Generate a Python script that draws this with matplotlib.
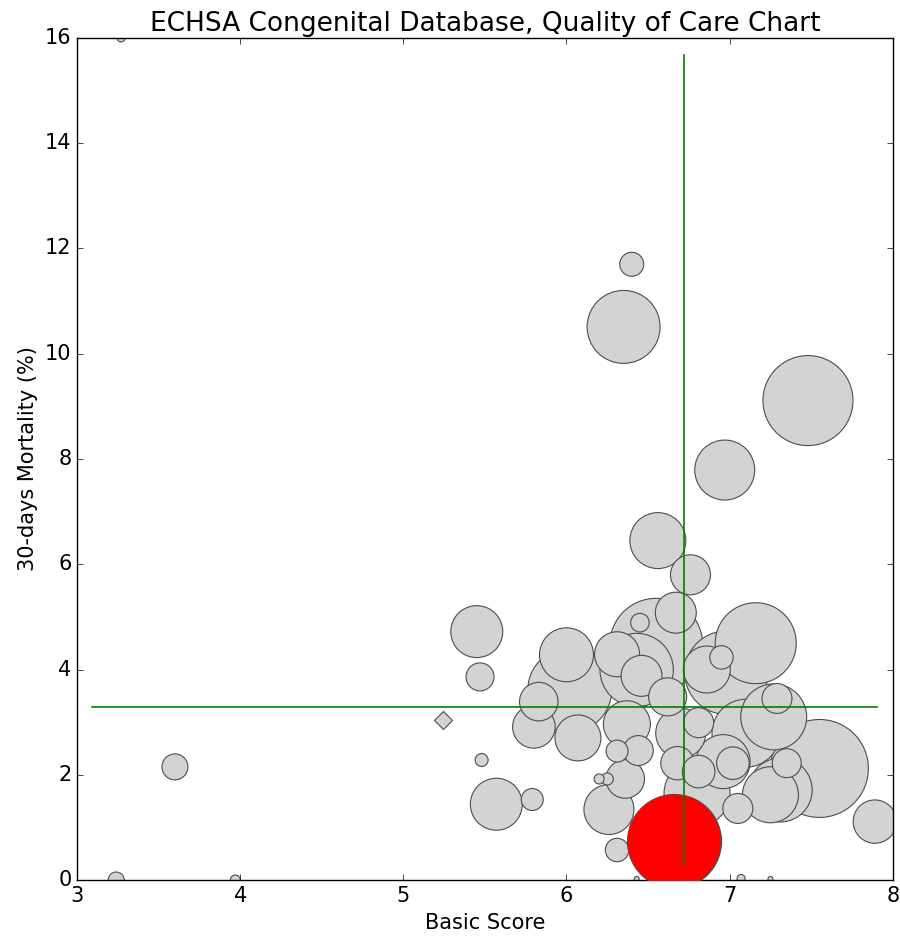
import numpy as np
import matplotlib
matplotlib.use("Agg")
import matplotlib.pyplot as plt

plt.style.use("classic")
plt.rcParams["font.size"] = 15
plt.rcParams["xtick.labelsize"] = 15
plt.rcParams["ytick.labelsize"] = 15
plt.rcParams["axes.labelsize"] = 15

# hospital bubbles: basic score, 30-day mortality (%), bubble size (case volume)
basic_score = [3.27, 3.24, 3.97, 3.60, 5.48, 5.57, 5.45, 5.47, 5.79,
               6.40, 6.35, 7.48, 6.97, 6.56, 6.76, 6.67, 6.45, 6.55, 7.16,
               6.00, 6.31, 6.46, 6.62, 6.86, 6.95, 6.98, 5.83, 5.80, 6.07,
               6.37, 6.02, 6.43, 7.29, 7.27, 6.81, 7.10, 6.70, 7.55, 7.35,
               7.25, 7.31, 7.05, 7.02, 6.96, 6.81, 6.68, 7.89, 7.07, 7.25,
               6.26, 6.20, 6.25, 6.36, 6.31, 6.44, 6.31, 6.43, 6.80]
mortality = [16.0, 0.0, 0.0, 2.15, 2.28, 1.44, 4.72, 3.86, 1.53,
             11.70, 10.51, 9.11, 7.79, 6.45, 5.80, 5.08, 4.89, 4.47, 4.50,
             4.28, 4.29, 3.88, 3.48, 4.00, 4.23, 3.94, 3.39, 2.91, 2.70,
             2.96, 3.61, 3.99, 3.45, 3.10, 2.99, 2.79, 2.79, 2.12, 2.22,
             1.62, 1.71, 1.36, 2.22, 2.25, 2.06, 2.22, 1.11, 0.03, 0.02,
             1.34, 1.92, 1.92, 1.92, 2.45, 2.46, 0.57, 0.02, 1.65]
volume = [33, 133, 52, 350, 87, 1400, 1400, 406, 250,
          298, 2760, 4200, 1865, 1625, 830, 870, 180, 4480, 3400,
          1510, 1050, 870, 750, 1145, 285, 3600, 770, 940, 1095,
          1145, 3650, 2790, 466, 2255, 466, 2395, 1295, 4975, 435,
          1625, 2120, 466, 550, 1510, 550, 577, 975, 33, 13,
          1295, 52, 75, 770, 250, 466, 285, 13, 2255]

# odd one drawn as diamond
diamond_score = [5.24]
diamond_mortality = [3.04]
diamond_volume = [84]

# highlighted centre
own_score = [6.66]
own_mortality = [0.75]
own_volume = [4580]

# reference lines
mean_score = 6.72
mean_score_span = [0.285, 15.68]
mean_mortality = 3.295
mean_mortality_span = [3.094, 7.904]

fig = plt.figure(figsize=(9, 9.4), dpi=100, facecolor="white")
ax = fig.add_axes([0.0856, 0.0638, 0.9064, 0.8958])
ax.set_facecolor("white")

order = np.argsort(volume)[::-1]
xs = np.array(basic_score)[order]
ys = np.array(mortality)[order]
ss = np.array(volume)[order]
ax.scatter(xs, ys, s=ss, c="lightgray", edgecolors="0.3", linewidths=0.8, zorder=2)
ax.scatter(diamond_score, diamond_mortality, s=diamond_volume, marker="D",
           c="lightgray", edgecolors="0.3", linewidths=0.8, zorder=2)
ax.scatter(own_score, own_mortality, s=own_volume, c="red",
           edgecolors="0.3", linewidths=0.8, zorder=3)

ax.plot([mean_score, mean_score], mean_score_span, color="green", lw=1.2, zorder=4)
ax.plot(mean_mortality_span, [mean_mortality, mean_mortality], color="green", lw=1.2, zorder=4)

ax.set_xlim(3, 8)
ax.set_ylim(0, 16)
ax.set_xticks(np.arange(3, 9, 1))
ax.set_yticks(np.arange(0, 17, 2))
ax.set_xlabel("Basic Score")
ax.set_ylabel("30-days Mortality (%)")
ax.set_title("ECHSA Congenital Database, Quality of Care Chart", fontsize=19)

fig.savefig("out.png", dpi=100, facecolor="white")
